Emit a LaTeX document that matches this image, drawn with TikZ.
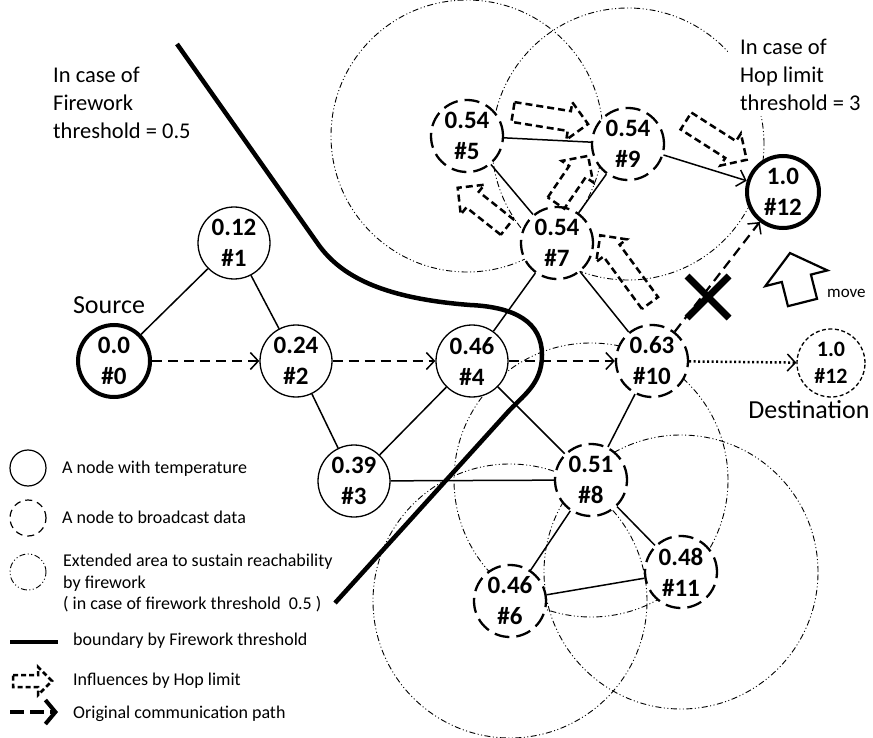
\documentclass[tikz,border=0pt]{standalone}
\usepackage{fontspec}
\setmainfont{Carlito}
\usetikzlibrary{arrows.meta}
\pgfdeclarelayer{bg}
\pgfsetlayers{bg,main}

\newcommand\lblfont{\bfseries\fontsize{25}{31}\selectfont}
\newcommand\dstfont{\bfseries\fontsize{22}{27}\selectfont}
\newcommand\notefont{\fontsize{22.5}{28}\selectfont}
\newcommand\keyfont{\fontsize{18}{21.5}\selectfont}
\newcommand\termfont{\fontsize{26}{31}\selectfont}
\newcommand\movefont{\fontsize{17}{20}\selectfont}

% block arrow outline:
% #1 style, #2/#3 tail centre, #4 angle, #5 length,
% #6 half body width, #7 half head width, #8 head length
\newcommand\blockarrow[8]{%
  \begin{scope}[shift={(#2,#3)},rotate=#4]
    \draw[#1] (0,-#6) -- ({#5-#8},-#6) -- ({#5-#8},-#7) -- (#5,0)
      -- ({#5-#8},#7) -- ({#5-#8},#6) -- (0,#6) -- cycle;
  \end{scope}}

\begin{document}
\begin{tikzpicture}[x=1pt,y=-1pt,
  tempnode/.style={circle,draw,line width=1.3pt,fill=white,minimum size=72pt,
    inner sep=0pt,align=center,font=\lblfont},
  castnode/.style={tempnode,line width=2.3pt,dash pattern=on 15pt off 7pt},
  endnode/.style={tempnode,line width=4pt},
  destnode/.style={tempnode,minimum size=68pt,line width=1.3pt,
    dash pattern=on 4pt off 2.5pt,font=\dstfont},
  link/.style={line width=1.5pt},
  barb/.style={-{Straight Barb[length=8pt,width=17pt,line width=1.5pt]}},
  origpath/.style={line width=2.2pt,dash pattern=on 10pt off 6pt,barb},
  dotpath/.style={line width=2.5pt,dash pattern=on 2pt off 2.5pt,barb},
  area/.style={line width=0.9pt,
    dash pattern=on 6pt off 2.5pt on 1pt off 2.5pt on 1pt off 2.5pt},
  boundary/.style={line width=4.5pt},
  hopline/.style={line width=2.5pt,dash pattern=on 7pt off 4pt},
  hopkey/.style={line width=2.5pt,dash pattern=on 5pt off 3pt},
  moveline/.style={line width=2.2pt,line join=miter},
  xmark/.style={line width=7pt},
  keycircle/.style={circle,draw,line width=1.2pt,minimum size=36pt,inner sep=0pt},
  keytext/.style={font=\keyfont,anchor=base west,inner sep=0pt},
  note/.style={font=\notefont,align=left,inner sep=0pt},
  bigtext/.style={font=\termfont,anchor=base,inner sep=0pt},
]
\useasboundingbox (0,0) rectangle (873,738);

% nodes of the network
\node[endnode]  (n0)  at (114,361) {0.0\\\#0};
\node[tempnode] (n1)  at (234,243) {0.12\\\#1};
\node[tempnode] (n2)  at (296,361) {0.24\\\#2};
\node[tempnode] (n3)  at (354,481) {0.39\\\#3};
\node[tempnode] (n4)  at (472,361) {0.46\\\#4};
\node[castnode] (n5)  at (467,136) {0.54\\\#5};
\node[castnode] (n6)  at (510,601) {0.46\\\#6};
\node[castnode] (n7)  at (557,243) {0.54\\\#7};
\node[castnode] (n8)  at (591,480) {0.51\\\#8};
\node[castnode] (n9)  at (628,144) {0.54\\\#9};
\node[castnode] (n10) at (652,361) {0.63\\\#10};
\node[castnode] (n11) at (681,572) {0.48\\\#11};
\node[endnode]  (n12) at (783,192) {1.0\\\#12};
\node[destnode] (d12) at (831,363) {1.0\\\#12};

% labels and notes
\node[bigtext] (src) at (109,313) {Source};
\node[bigtext] (dst) at (809,418) {Destination};
\node[note,anchor=north west] (fwnote) at (53,67) {In case of\\Firework\\threshold = 0.5};
\node[note,anchor=north west,fill=white,inner xsep=12pt,inner ysep=5pt] (hopnote)
  at (728,34) {In case of\\Hop limit\\threshold = 3};
\node[font=\movefont,anchor=base west,inner sep=0pt] (mv) at (827,297) {move};

% reachability areas of the broadcasting nodes
\begin{pgfonlayer}{bg}
  \fill[white] (0,0) rectangle (873,738);
  \draw[area] (n5.center)  circle[radius=136pt];
  \draw[area] (n9.center)  circle[radius=136pt];
  \draw[area] (n8.center)  circle[radius=137pt];
  \draw[area] (n6.center)  circle[radius=137pt];
  \draw[area] (n11.center) circle[radius=137pt];
\end{pgfonlayer}

% links
\draw[link] (n0) -- (n1);
\draw[link] (n1) -- (n2);
\draw[link] (n2) -- (n3);
\draw[link] (n3) -- (n4);
\draw[link] (n3) -- (n8);
\draw[link] (n4) -- (n7);
\draw[link] (n4) -- (n8);
\draw[link] (n5) -- (n7);
\draw[link] (n5) -- (n9);
\draw[link] (n7) -- (n9);
\draw[link] (n7) -- (n10);
\draw[link] (n10) -- (n8);
\draw[link] (n8) -- (n6);
\draw[link] (n8) -- (n11);
\draw[link] (n6) -- (n11);
\draw[link,barb] (n9) -- (n12);

% original communication path
\draw[origpath] (n0) -- (n2);
\draw[origpath] (n2) -- (n4);
\draw[origpath] (n4) -- (n10);
\draw[origpath] (n10) -- (n12);
\draw[dotpath] (n10) -- (d12);

% broken link
\coordinate (cut) at (708,297);
\draw[xmark] (cut) ++(-21,-21) -- ++(42,42) (cut) ++(21,-21) -- ++(-42,42);

% boundary by firework threshold
\draw[boundary] (177,44) -- (318,244)
  .. controls (340,275) and (380,298) .. (470,305)
  .. controls (515,307) and (542,322) .. (542,355)
  .. controls (542,385) and (522,396) .. (507,413)
  -- (335,603);

% influences by hop limit
\blockarrow{hopline}{513}{112}{-9.1}{76}{10}{19}{19}
\blockarrow{hopline}{686}{121}{-32.6}{72}{10}{19}{19}
\blockarrow{hopline}{556}{203}{55.7}{57}{10}{19}{19}
\blockarrow{hopline}{507}{227}{141.5}{63}{10}{19}{19}
\blockarrow{hopline}{650}{303}{126.3}{84}{10}{19}{19}

% movement of the destination
\blockarrow{moveline}{802.5}{302.5}{104.2}{51}{15}{32}{26}

% legend
\node[keycircle] (key1) at (28,468) {};
\node[keycircle,dash pattern=on 7pt off 5pt] (key2) at (28,518) {};
\node[keycircle,area] (key3) at (28,572) {};
\coordinate (k4a) at (10,642);
\coordinate (k4b) at (58,642);
\draw[boundary] (k4a) -- (k4b);
\blockarrow{hopkey}{13}{681}{0}{39}{6}{14}{14}
\coordinate (k6a) at (10,712);
\coordinate (k6b) at (58,712);
\draw[line width=4pt,dash pattern=on 14pt off 6pt,
  -{Straight Barb[length=10pt,width=24pt]}] (k6a) -- (k6b);

\node[keytext] (kt1) at (62,473) {A node with temperature};
\node[keytext] (kt2) at (62,523) {A node to broadcast data};
\node[keytext,align=left,anchor=north west] (kt3) at (63,554)
  {Extended area to sustain reachability\\by firework\\( in case of firework threshold\ \ 0.5 )};
\node[keytext] (kt4) at (73,645) {boundary by Firework threshold};
\node[keytext] (kt5) at (73,685) {Influences by Hop limit};
\node[keytext] (kt6) at (73,718) {Original communication path};
\end{tikzpicture}
\end{document}
